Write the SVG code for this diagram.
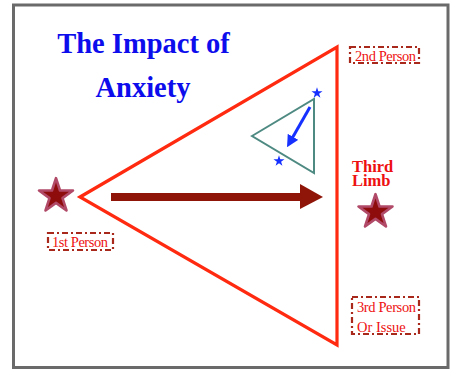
<svg xmlns="http://www.w3.org/2000/svg" width="451" height="370" viewBox="0 0 451 370">
<style>
.title{font-family:"Liberation Serif",serif;font-weight:bold;font-size:28.5px;fill:#0c0cec;text-anchor:middle}
.lbl{font-family:"Liberation Serif",serif;font-size:14.5px;fill:#ee1111}
.box{fill:none;stroke:#a8281c;stroke-width:2.2;stroke-dasharray:6 3 2 3}
.limb{font-family:"Liberation Serif",serif;font-weight:bold;font-size:16.5px;fill:#ee1111}
.bigstar{fill:#8e0c0c;stroke:#b04a68;stroke-width:2.5;stroke-linejoin:round}
.bluestar{fill:#1530ff}
</style>
<defs>
<path id="star" d="M0,-17 L3.82,-5.26 L16.17,-5.25 L6.18,2.01 L9.99,13.75 L0,6.5 L-9.99,13.75 L-6.18,2.01 L-16.17,-5.25 L-3.82,-5.26 Z"/>
<marker id="bluehead" viewBox="0 0 10 10" refX="5" refY="5" markerWidth="4" markerHeight="4" orient="auto" markerUnits="strokeWidth">
<path d="M0,0 L10,5 L0,10 Z" fill="#1530ff"/>
</marker>
</defs>
<rect x="0" y="0" width="451" height="370" fill="#ffffff"/>
<rect x="13.5" y="5" width="434.5" height="362.5" fill="#ffffff" stroke="#6a6a6a" stroke-width="3"/>
<g id="title">
<text class="title" x="143.5" y="53">The Impact of</text>
<text class="title" x="143" y="97">Anxiety</text>
</g>
<g id="big-triangle">
<polygon points="80,197 337,47 337,345" fill="none" stroke="#ff2a10" stroke-width="3.2" stroke-linejoin="miter"/>
</g>
<g id="small-triangle">
<polygon points="252,136 314,99 314,173" fill="none" stroke="#4e8a82" stroke-width="2"/>
</g>
<g id="connectors">
<line x1="111" y1="197" x2="302" y2="197" stroke="#8e1508" stroke-width="8"/>
<polygon points="300,184 323,197 300,209" fill="#8e1508"/>
<line x1="310" y1="107" x2="290" y2="142" stroke="#1530ff" stroke-width="3" marker-end="url(#bluehead)"/>
</g>
<g id="star-1st">
<use href="#star" class="bigstar" transform="translate(56,196) scale(1.05)"/>
</g>
<g id="star-third">
<use href="#star" class="bigstar" transform="translate(375.5,212) scale(1.05)"/>
</g>
<g id="blue-star-top">
<use href="#star" class="bluestar" transform="translate(317,93) scale(0.34)"/>
</g>
<g id="blue-star-bottom">
<use href="#star" class="bluestar" transform="translate(279,161) scale(0.34)"/>
</g>
<g id="label-2nd">
<rect class="box" x="350" y="47" width="69" height="16"/>
<text class="lbl" x="355" y="60.5" textLength="61">2nd Person</text>
</g>
<g id="label-1st">
<rect class="box" x="48" y="233" width="65" height="17"/>
<text class="lbl" x="52" y="247" textLength="56">1st Person</text>
</g>
<g id="label-3rd">
<rect class="box" x="352" y="297" width="67" height="37"/>
<text class="lbl" x="357" y="312" textLength="59">3rd Person</text>
<text class="lbl" x="357" y="332">Or Issue</text>
</g>
<g id="third-limb">
<text class="limb" x="352" y="172">Third</text>
<text class="limb" x="352" y="186">Limb</text>
</g>
</svg>
